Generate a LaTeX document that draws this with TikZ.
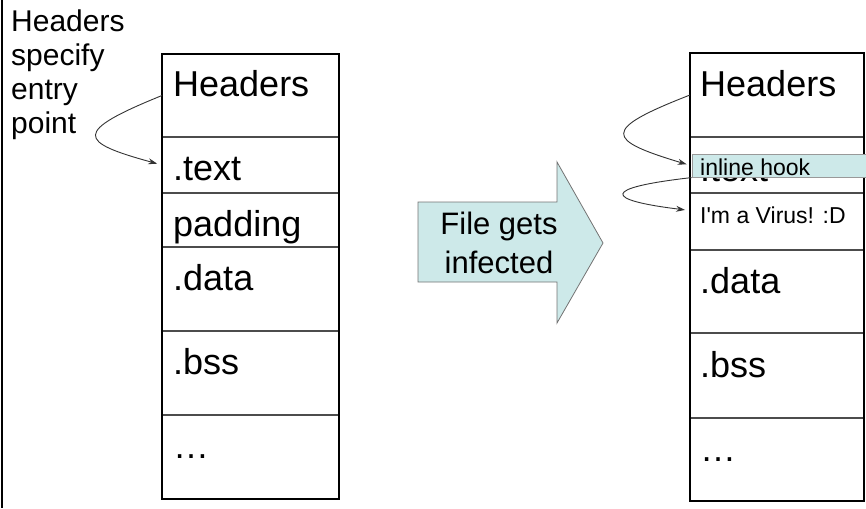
\documentclass[tikz,border=0pt]{standalone}
\usepackage{fontspec}
\setmainfont{Liberation Sans}
\usetikzlibrary{arrows.meta,positioning}
\definecolor{hookcyan}{RGB}{205,233,233}

\begin{document}
\begin{tikzpicture}[x=1pt,y=-1pt,
  cell/.style={draw=black!70,line width=1.2pt,minimum width=177pt,inner sep=0pt,outer sep=0pt},
  rcell/.style={cell,minimum width=174pt},
  big/.style={font=\fontsize{36}{43}\selectfont,anchor=base west,inner sep=0pt},
  small/.style={font=\fontsize{23}{27}\selectfont,anchor=base west,inner sep=0pt},
  frame/.style={line width=2.5pt},
  flow/.style={draw=black!80,line width=0.9pt,-{Stealth[length=9pt,width=6pt]},shorten >=5pt}]
\useasboundingbox (0,0) rectangle (866,508);
\draw[frame] (2,0) -- (2,508);

\node[anchor=north west,inner sep=0pt,align=left,font=\fontsize{30}{34}\selectfont] (note) at (11,10) {Headers\\specify\\entry\\point};

\node[cell,minimum height=83pt,anchor=north west] (lhdr) at (162,54) {};
\node[cell,minimum height=56pt,below=0pt of lhdr] (ltext) {};
\node[cell,minimum height=54pt,below=0pt of ltext] (lpad) {};
\node[cell,minimum height=84pt,below=0pt of lpad] (ldata) {};
\node[cell,minimum height=84pt,below=0pt of ldata] (lbss) {};
\node[cell,minimum height=84pt,below=0pt of lbss] (ldots) {};
\draw[frame] (lhdr.north west) rectangle (ldots.south east);

\node[big] (lhdrtxt) at (173,97) {Headers};
\node[big] (ltexttxt) at (173,180) {.text};
\node[big] (lpadtxt) at (173,236) {padding};
\node[big] (ldatatxt) at (173,290) {.data};
\node[big] (lbsstxt) at (173,374) {.bss};
\node[big] (ldotstxt) at (173,458) {…};

\draw[draw=black!55,line width=0.8pt,fill=hookcyan] (418,202) -- (557,202) -- (557,162) -- (603,243) -- (557,323) -- (557,282) -- (418,282) -- cycle;
\node[align=center,inner sep=0pt,font=\fontsize{31}{39}\selectfont] (infect) at (499,243) {File gets\\infected};

\node[rcell,minimum height=84pt,anchor=north west] (rhdr) at (690,53) {};
\node[rcell,minimum height=56pt,below=0pt of rhdr] (rtext) {};
\node[rcell,minimum height=57pt,below=0pt of rtext] (rvirus) {};
\node[rcell,minimum height=83pt,below=0pt of rvirus] (rdata) {};
\node[rcell,minimum height=85pt,below=0pt of rdata] (rbss) {};
\node[rcell,minimum height=83pt,below=0pt of rbss] (rdots) {};
\draw[frame] (rhdr.north west) rectangle (rdots.south east);

\node[big] (rhdrtxt) at (700,96) {Headers};
\node[big] (rtexttxt) at (700,181) {.text};
\node[small] (rvirustxt) at (700,223) {I\textquotesingle m a Virus! :D};
\node[big] (rdatatxt) at (700,293) {.data};
\node[big] (rbsstxt) at (700,377) {.bss};
\node[big] (rdotstxt) at (700,461) {…};

\node[draw=black!40,line width=0.6pt,fill=hookcyan,minimum width=175pt,minimum height=23pt,inner sep=0pt,anchor=north west] (hook) at (691.5,154) {};
\node[small] (hooktxt) at (700,175) {inline hook};

\draw[flow] (lhdr.west) .. controls (72,132) and (78,142) .. (ltext.west);
\draw[flow] (rhdr.west) .. controls (600,130) and (606,140) .. (hook.west);
\draw[flow] (hook.south west) .. controls (600,188) and (604,200) .. ([yshift=11pt]rvirus.west);
\end{tikzpicture}
\end{document}
